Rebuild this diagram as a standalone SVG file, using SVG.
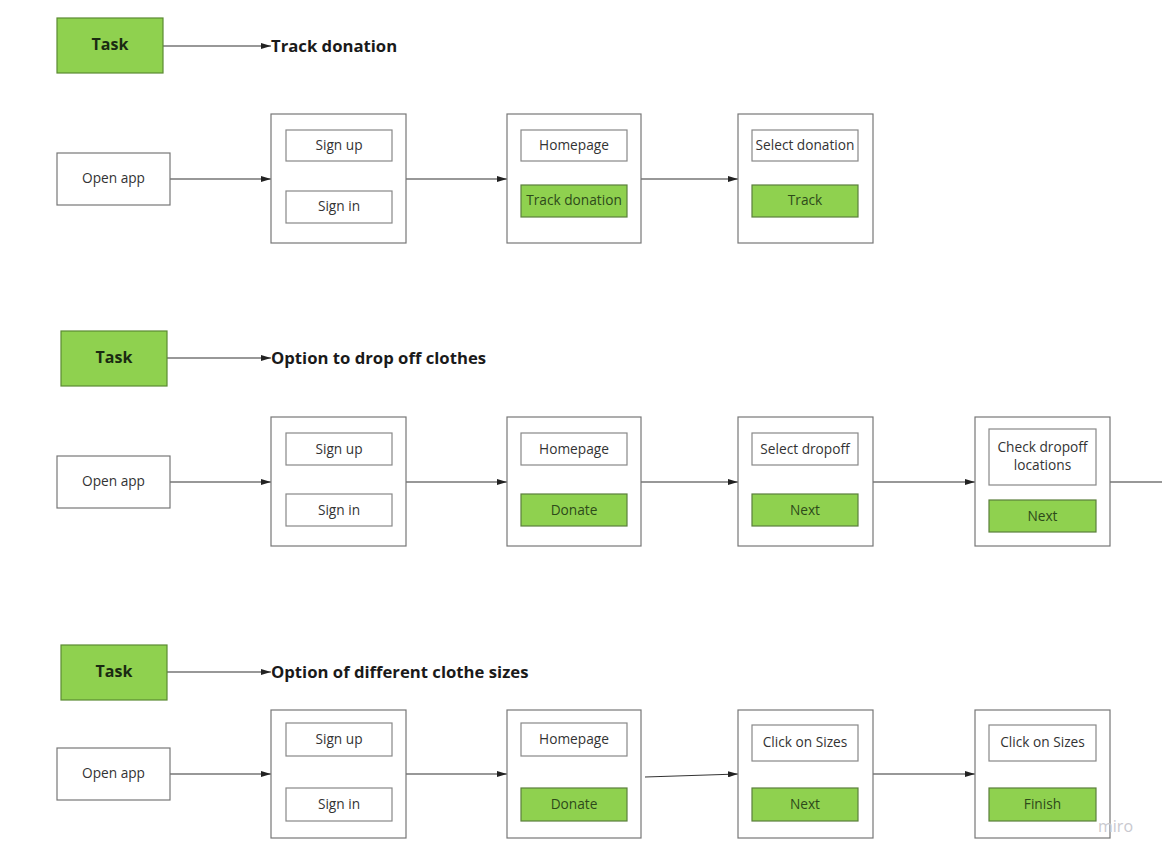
<svg xmlns="http://www.w3.org/2000/svg" width="1162" height="860" viewBox="0 0 1162 860">
<style>
.bg{fill:#ffffff}
.task{fill:#8fd14f;stroke:#5b8a33;stroke-width:1.2}
.tasktxt{font-family:"Open Sans","Liberation Sans",sans-serif;font-weight:bold;font-size:16px;fill:#1a2a12;text-anchor:middle}
.title{font-family:"Open Sans","Liberation Sans",sans-serif;font-weight:bold;font-size:16.7px;fill:#1a1a1a}
.plain{fill:#ffffff;stroke:#777777;stroke-width:1.2}
.screen{fill:#ffffff;stroke:#777777;stroke-width:1.2}
.item{fill:#ffffff;stroke:#888888;stroke-width:1.2}
.gitem{fill:#8fd14f;stroke:#5b7f3c;stroke-width:1.2}
.t{font-family:"Open Sans","Liberation Sans",sans-serif;font-size:13.7px;fill:#333333;text-anchor:middle}
.gt{font-family:"Open Sans","Liberation Sans",sans-serif;font-size:13.7px;fill:#2d4a1a;text-anchor:middle}
.conn{stroke:#333333;stroke-width:1.1;fill:none}
.wm{font-family:"Open Sans","Liberation Sans",sans-serif;font-size:16px;fill:#c9c9cf}
</style>
<defs>
<marker id="ah" viewBox="0 0 10 6" refX="10" refY="3" markerWidth="10" markerHeight="6" markerUnits="userSpaceOnUse" orient="auto">
<path d="M0,0 L10,3 L0,6 Z" fill="#222222"/>
</marker>
</defs>
<rect class="bg" x="0" y="0" width="1162" height="860"/>

<g id="connectors">
<line class="conn" x1="163" y1="46" x2="271" y2="46" marker-end="url(#ah)"/>
<line class="conn" x1="170" y1="179" x2="271" y2="179" marker-end="url(#ah)"/>
<line class="conn" x1="406" y1="179" x2="507" y2="179" marker-end="url(#ah)"/>
<line class="conn" x1="641" y1="179" x2="738" y2="179" marker-end="url(#ah)"/>

<line class="conn" x1="167" y1="358" x2="271" y2="358" marker-end="url(#ah)"/>
<line class="conn" x1="170" y1="482" x2="271" y2="482" marker-end="url(#ah)"/>
<line class="conn" x1="406" y1="482" x2="507" y2="482" marker-end="url(#ah)"/>
<line class="conn" x1="641" y1="482" x2="738" y2="482" marker-end="url(#ah)"/>
<line class="conn" x1="873" y1="482" x2="975" y2="482" marker-end="url(#ah)"/>
<line class="conn" x1="1110" y1="482" x2="1162" y2="482"/>

<line class="conn" x1="167" y1="672" x2="271" y2="672" marker-end="url(#ah)"/>
<line class="conn" x1="170" y1="774" x2="271" y2="774" marker-end="url(#ah)"/>
<line class="conn" x1="406" y1="774" x2="507" y2="774" marker-end="url(#ah)"/>
<line class="conn" x1="645" y1="777" x2="738" y2="774" marker-end="url(#ah)"/>
<line class="conn" x1="873" y1="774" x2="975" y2="774" marker-end="url(#ah)"/>
</g>

<!-- Row 1 -->
<g id="task1"><rect class="task" x="57" y="18" width="106" height="55"/><text class="tasktxt" x="110" y="50">Task</text></g>
<g id="title1"><text class="title" x="271" y="52">Track donation</text></g>
<g id="open1"><rect class="plain" x="57" y="153" width="113" height="52"/><text class="t" x="113.5" y="183">Open app</text></g>
<g id="r1s1"><rect class="screen" x="271" y="114" width="135" height="129"/>
<rect class="item" x="286" y="130" width="106" height="31"/><text class="t" x="339" y="150">Sign up</text>
<rect class="item" x="286" y="191" width="106" height="32"/><text class="t" x="339" y="211">Sign in</text></g>
<g id="r1s2"><rect class="screen" x="507" y="114" width="134" height="129"/>
<rect class="item" x="521" y="130" width="106" height="31"/><text class="t" x="574" y="150">Homepage</text>
<rect class="gitem" x="521" y="185" width="106" height="32"/><text class="gt" x="574" y="205">Track donation</text></g>
<g id="r1s3"><rect class="screen" x="738" y="114" width="135" height="129"/>
<rect class="item" x="752" y="130" width="106" height="31"/><text class="t" x="805" y="150">Select donation</text>
<rect class="gitem" x="752" y="185" width="106" height="32"/><text class="gt" x="805" y="205">Track</text></g>

<!-- Row 2 -->
<g id="task2"><rect class="task" x="61" y="331" width="106" height="55"/><text class="tasktxt" x="114" y="363">Task</text></g>
<g id="title2"><text class="title" x="271" y="364">Option to drop off clothes</text></g>
<g id="open2"><rect class="plain" x="57" y="456" width="113" height="52"/><text class="t" x="113.5" y="486">Open app</text></g>
<g id="r2s1"><rect class="screen" x="271" y="417" width="135" height="129"/>
<rect class="item" x="286" y="433" width="106" height="32"/><text class="t" x="339" y="454">Sign up</text>
<rect class="item" x="286" y="494" width="106" height="32"/><text class="t" x="339" y="515">Sign in</text></g>
<g id="r2s2"><rect class="screen" x="507" y="417" width="134" height="129"/>
<rect class="item" x="521" y="433" width="106" height="32"/><text class="t" x="574" y="454">Homepage</text>
<rect class="gitem" x="521" y="494" width="106" height="32"/><text class="gt" x="574" y="515">Donate</text></g>
<g id="r2s3"><rect class="screen" x="738" y="417" width="135" height="129"/>
<rect class="item" x="752" y="433" width="106" height="32"/><text class="t" x="805" y="454">Select dropoff</text>
<rect class="gitem" x="752" y="494" width="106" height="32"/><text class="gt" x="805" y="515">Next</text></g>
<g id="r2s4"><rect class="screen" x="975" y="417" width="135" height="129"/>
<rect class="item" x="989" y="429" width="107" height="56"/><text class="t" x="1042.5" y="452">Check dropoff</text><text class="t" x="1042.5" y="470">locations</text>
<rect class="gitem" x="989" y="500" width="107" height="32"/><text class="gt" x="1042.5" y="521">Next</text></g>

<!-- Row 3 -->
<g id="task3"><rect class="task" x="61" y="645" width="106" height="55"/><text class="tasktxt" x="114" y="677">Task</text></g>
<g id="title3"><text class="title" x="271" y="678">Option of different clothe sizes</text></g>
<g id="open3"><rect class="plain" x="57" y="748" width="113" height="52"/><text class="t" x="113.5" y="778">Open app</text></g>
<g id="r3s1"><rect class="screen" x="271" y="710" width="135" height="128"/>
<rect class="item" x="286" y="723" width="106" height="33"/><text class="t" x="339" y="744">Sign up</text>
<rect class="item" x="286" y="788" width="106" height="33"/><text class="t" x="339" y="809">Sign in</text></g>
<g id="r3s2"><rect class="screen" x="507" y="710" width="134" height="128"/>
<rect class="item" x="521" y="723" width="106" height="33"/><text class="t" x="574" y="744">Homepage</text>
<rect class="gitem" x="521" y="788" width="106" height="33"/><text class="gt" x="574" y="809">Donate</text></g>
<g id="r3s3"><rect class="screen" x="738" y="710" width="135" height="128"/>
<rect class="item" x="752" y="725" width="106" height="36"/><text class="t" x="805" y="747">Click on Sizes</text>
<rect class="gitem" x="752" y="788" width="106" height="33"/><text class="gt" x="805" y="809">Next</text></g>
<g id="r3s4"><rect class="screen" x="975" y="710" width="135" height="128"/>
<rect class="item" x="989" y="725" width="107" height="36"/><text class="t" x="1042.5" y="747">Click on Sizes</text>
<rect class="gitem" x="989" y="788" width="107" height="33"/><text class="gt" x="1042.5" y="809">Finish</text></g>

<text class="wm" x="1098" y="832">miro</text>
</svg>
